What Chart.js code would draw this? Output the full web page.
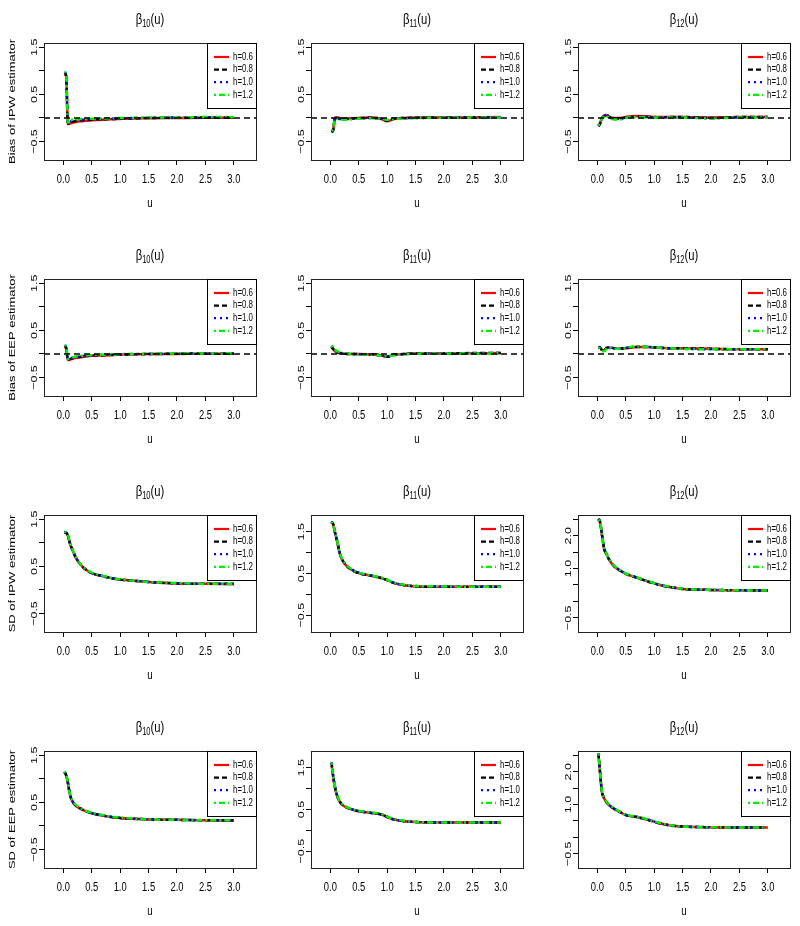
<!DOCTYPE html>
<html>
<head>
<meta charset="utf-8">
<script src="https://cdn.jsdelivr.net/npm/chart.js@4.4.1/dist/chart.umd.min.js"></script>
<style>
    body { margin: 0; background: #fff; width: 800px; height: 926px; overflow: hidden; position: relative; }
    .panel { position: absolute; width: 267px; height: 236px; }
</style>
</head>
<body>
<div id="grid"></div>
<script>
// ---- data ----
const uGrid = [0.02, 0.05, 0.08, 0.12, 0.16, 0.2, 0.3, 0.4, 0.5, 0.7, 0.9, 1.0, 1.1, 1.3, 1.5, 2.0, 2.5, 3.0];
const xTicks = [0, 0.5, 1.0, 1.5, 2.0, 2.5, 3.0];
const hLabels = ['h=0.6', 'h=0.8', 'h=1.0', 'h=1.2'];

const yTicksBias = [-0.5, 0, 0.5, 1.0, 1.5];
const yLabelsBias = [-0.5, 0.5, 1.5];
const yTicksWide = [-0.5, 0, 0.5, 1.0, 1.5, 2.0, 2.5];
const yLabelsWide = [-0.5, 1.0, 2.0];

// rows: h=0.6, h=0.8, h=1.0, h=1.2
const biasIpwB10 = [
    [0.93, 0.88, -0.13, -0.12, -0.1, -0.09, -0.07, -0.06, -0.05, -0.035, -0.025, -0.02, -0.015, -0.01, -0.005, 0, 0.005, 0.005],
    [0.96, 0.9, -0.12, -0.1, -0.08, -0.07, -0.05, -0.04, -0.035, -0.025, -0.02, -0.015, -0.01, -0.005, 0, 0.005, 0.01, 0.01],
    [0.97, 0.92, -0.11, -0.08, -0.06, -0.05, -0.04, -0.03, -0.025, -0.02, -0.015, -0.01, -0.005, 0, 0.005, 0.01, 0.015, 0.015],
    [0.98, 0.94, -0.1, -0.05, -0.03, -0.03, -0.02, -0.02, -0.015, -0.01, -0.005, 0, 0, 0.005, 0.01, 0.01, 0.02, 0.02]
];
const biasIpwB11 = [
    [-0.28, -0.25, 0.01, 0.01, 0, -0.01, -0.01, -0.005, 0, 0.01, -0.02, -0.07, -0.03, 0, 0.01, 0.01, 0.015, 0.02],
    [-0.3, -0.27, 0, 0, -0.01, -0.01, -0.02, -0.01, -0.005, 0.005, -0.02, -0.06, -0.02, 0, 0.005, 0.01, 0.01, 0.015],
    [-0.29, -0.26, -0.01, -0.01, -0.02, -0.02, -0.025, -0.015, -0.01, 0, -0.02, -0.05, -0.02, -0.005, 0, 0.005, 0.01, 0.01],
    [-0.27, -0.24, -0.02, -0.02, -0.03, -0.035, -0.04, -0.02, -0.015, -0.005, -0.02, -0.04, -0.025, -0.01, 0, 0.005, 0.01, 0.01]
];
const biasIpwB12 = [
    [-0.15, -0.1, 0.0, 0.04, 0.06, 0.03, 0.0, 0.0, 0.02, 0.04, 0.03, 0.02, 0.02, 0.02, 0.02, 0.01, 0.02, 0.02],
    [-0.18, -0.12, -0.01, 0.05, 0.08, 0.03, -0.01, -0.01, 0.01, 0.03, 0.02, 0.02, 0.01, 0.02, 0.02, 0.0, 0.02, 0.02],
    [-0.17, -0.11, -0.02, 0.04, 0.07, 0.02, -0.02, -0.02, 0.01, 0.02, 0.02, 0.01, 0.01, 0.01, 0.01, 0.0, 0.01, 0.02],
    [-0.16, -0.1, -0.02, 0.03, 0.05, 0.01, -0.03, -0.03, 0.0, 0.02, 0.01, 0.01, 0.01, 0.01, 0.01, -0.01, 0.01, 0.01]
];
const biasEepB10 = [
    [0.15, 0.12, -0.13, -0.12, -0.1, -0.09, -0.07, -0.05, -0.04, -0.03, -0.02, -0.015, -0.01, -0.005, 0, 0, 0.005, 0.005],
    [0.17, 0.14, -0.12, -0.11, -0.09, -0.08, -0.06, -0.045, -0.035, -0.025, -0.015, -0.01, -0.01, -0.005, 0, 0.005, 0.01, 0.01],
    [0.18, 0.15, -0.11, -0.1, -0.08, -0.07, -0.05, -0.04, -0.03, -0.02, -0.01, -0.01, -0.005, 0, 0, 0.005, 0.01, 0.01],
    [0.19, 0.16, -0.1, -0.09, -0.07, -0.06, -0.04, -0.03, -0.02, -0.015, -0.01, -0.005, 0, 0, 0.005, 0.01, 0.01, 0.015]
];
const biasEepB11 = [
    [0.14, 0.1, 0.06, 0.03, 0.02, 0.01, 0, 0, 0, -0.01, -0.03, -0.06, -0.02, 0, 0.01, 0.01, 0.015, 0.02],
    [0.16, 0.11, 0.07, 0.04, 0.02, 0.01, 0, 0, -0.005, -0.01, -0.03, -0.06, -0.02, 0, 0.01, 0.01, 0.02, 0.02],
    [0.17, 0.12, 0.08, 0.05, 0.03, 0.02, 0.005, 0, -0.005, -0.015, -0.035, -0.055, -0.025, 0, 0.005, 0.01, 0.015, 0.02],
    [0.18, 0.13, 0.09, 0.06, 0.04, 0.02, 0.01, 0, -0.01, -0.015, -0.035, -0.05, -0.03, -0.005, 0.005, 0.01, 0.01, 0.015]
];
const biasEepB12 = [
    [0.14, 0.13, 0.09, 0.08, 0.12, 0.14, 0.12, 0.11, 0.12, 0.15, 0.15, 0.14, 0.13, 0.12, 0.12, 0.11, 0.1, 0.1],
    [0.15, 0.14, 0.08, 0.07, 0.13, 0.14, 0.12, 0.11, 0.13, 0.15, 0.15, 0.14, 0.13, 0.12, 0.12, 0.11, 0.1, 0.1],
    [0.14, 0.13, 0.07, 0.07, 0.12, 0.13, 0.11, 0.11, 0.13, 0.16, 0.15, 0.14, 0.13, 0.12, 0.11, 0.1, 0.1, 0.1],
    [0.13, 0.12, 0.06, 0.06, 0.11, 0.13, 0.11, 0.11, 0.13, 0.16, 0.15, 0.14, 0.13, 0.12, 0.11, 0.1, 0.1, 0.1]
];
const sdIpwB10 = [
    [1.22, 1.21, 1.15, 0.97, 0.85, 0.73, 0.54, 0.43, 0.36, 0.29, 0.24, 0.22, 0.21, 0.19, 0.17, 0.14, 0.13, 0.12],
    [1.23, 1.22, 1.16, 0.98, 0.86, 0.74, 0.54, 0.43, 0.36, 0.29, 0.24, 0.22, 0.21, 0.19, 0.17, 0.14, 0.13, 0.13],
    [1.23, 1.22, 1.17, 0.99, 0.86, 0.74, 0.55, 0.43, 0.36, 0.29, 0.24, 0.22, 0.21, 0.19, 0.17, 0.14, 0.13, 0.13],
    [1.24, 1.23, 1.17, 0.99, 0.87, 0.75, 0.55, 0.44, 0.37, 0.3, 0.24, 0.23, 0.21, 0.19, 0.17, 0.15, 0.13, 0.13]
];
const sdIpwB11 = [
    [1.73, 1.67, 1.49, 1.27, 1.01, 0.85, 0.66, 0.57, 0.51, 0.45, 0.39, 0.34, 0.28, 0.22, 0.19, 0.18, 0.18, 0.18],
    [1.75, 1.69, 1.5, 1.28, 1.02, 0.86, 0.67, 0.57, 0.51, 0.45, 0.39, 0.34, 0.28, 0.22, 0.19, 0.18, 0.18, 0.18],
    [1.74, 1.68, 1.5, 1.29, 1.03, 0.86, 0.67, 0.58, 0.52, 0.45, 0.39, 0.35, 0.28, 0.22, 0.2, 0.18, 0.18, 0.18],
    [1.74, 1.68, 1.51, 1.29, 1.03, 0.87, 0.68, 0.58, 0.52, 0.46, 0.4, 0.35, 0.29, 0.23, 0.2, 0.19, 0.18, 0.18]
];
const sdIpwB12 = [
    [2.48, 2.38, 2.03, 1.59, 1.44, 1.29, 1.06, 0.94, 0.84, 0.72, 0.6, 0.55, 0.5, 0.43, 0.38, 0.35, 0.34, 0.33],
    [2.52, 2.42, 2.06, 1.61, 1.45, 1.3, 1.07, 0.94, 0.84, 0.72, 0.6, 0.55, 0.5, 0.43, 0.38, 0.35, 0.34, 0.33],
    [2.5, 2.4, 2.05, 1.6, 1.46, 1.31, 1.08, 0.95, 0.85, 0.73, 0.61, 0.55, 0.5, 0.43, 0.38, 0.35, 0.34, 0.33],
    [2.49, 2.4, 2.06, 1.61, 1.46, 1.31, 1.08, 0.95, 0.85, 0.73, 0.61, 0.56, 0.51, 0.44, 0.39, 0.35, 0.34, 0.33]
];
const sdEepB10 = [
    [1.14, 1.07, 0.91, 0.64, 0.52, 0.45, 0.37, 0.31, 0.27, 0.22, 0.18, 0.17, 0.16, 0.15, 0.14, 0.13, 0.12, 0.11],
    [1.15, 1.08, 0.92, 0.65, 0.53, 0.46, 0.37, 0.31, 0.27, 0.22, 0.18, 0.17, 0.16, 0.15, 0.14, 0.13, 0.12, 0.12],
    [1.15, 1.08, 0.93, 0.66, 0.53, 0.46, 0.38, 0.32, 0.27, 0.22, 0.19, 0.17, 0.16, 0.15, 0.14, 0.13, 0.12, 0.12],
    [1.16, 1.09, 0.93, 0.66, 0.54, 0.47, 0.38, 0.32, 0.28, 0.23, 0.19, 0.18, 0.17, 0.15, 0.14, 0.13, 0.12, 0.12]
];
const sdEepB11 = [
    [1.61, 1.29, 1.04, 0.82, 0.7, 0.62, 0.54, 0.49, 0.46, 0.42, 0.38, 0.32, 0.27, 0.22, 0.2, 0.19, 0.19, 0.19],
    [1.63, 1.3, 1.05, 0.83, 0.71, 0.63, 0.54, 0.49, 0.46, 0.42, 0.38, 0.32, 0.27, 0.22, 0.2, 0.19, 0.19, 0.19],
    [1.62, 1.31, 1.06, 0.83, 0.71, 0.63, 0.55, 0.5, 0.46, 0.42, 0.38, 0.33, 0.27, 0.22, 0.2, 0.19, 0.19, 0.19],
    [1.62, 1.31, 1.06, 0.84, 0.72, 0.64, 0.55, 0.5, 0.47, 0.43, 0.39, 0.33, 0.28, 0.23, 0.2, 0.19, 0.19, 0.19]
];
const sdEepB12 = [
    [2.53, 1.93, 1.39, 1.19, 1.07, 0.99, 0.86, 0.77, 0.68, 0.62, 0.53, 0.48, 0.43, 0.36, 0.33, 0.31, 0.3, 0.3],
    [2.56, 1.95, 1.4, 1.2, 1.08, 1.0, 0.87, 0.77, 0.68, 0.62, 0.53, 0.48, 0.43, 0.36, 0.33, 0.31, 0.3, 0.3],
    [2.55, 1.96, 1.41, 1.21, 1.08, 1.0, 0.87, 0.78, 0.69, 0.62, 0.54, 0.48, 0.43, 0.36, 0.33, 0.31, 0.3, 0.3],
    [2.55, 1.96, 1.41, 1.21, 1.09, 1.01, 0.88, 0.78, 0.69, 0.63, 0.54, 0.49, 0.44, 0.37, 0.33, 0.31, 0.3, 0.3]
];

// ---- styling ----
const lineColors = ['#ff0000', '#000000', '#0000ff', '#00ee00'];
const lineDashes = [[], [5, 3], [2, 4], [2, 3, 6, 3]];
const xRange = [-0.34, 3.39];
const yRangeBias = [-0.892, 1.592];
const yRangeMid = [-0.904, 1.904];
const yRangeWide = [-0.932, 2.632];

const SX = 0.75; // lettering in the reference is squeezed horizontally
const FONT = '"Liberation Sans", Arial, sans-serif';

const panels = [
    { sub: '10', ylabel: 'Bias of IPW estimator', data: biasIpwB10, range: yRangeBias, ticks: yTicksBias, labels: yLabelsBias, zero: true },
    { sub: '11', data: biasIpwB11, range: yRangeBias, ticks: yTicksBias, labels: yLabelsBias, zero: true },
    { sub: '12', data: biasIpwB12, range: yRangeBias, ticks: yTicksBias, labels: yLabelsBias, zero: true },
    { sub: '10', ylabel: 'Bias of EEP estimator', data: biasEepB10, range: yRangeBias, ticks: yTicksBias, labels: yLabelsBias, zero: true },
    { sub: '11', data: biasEepB11, range: yRangeBias, ticks: yTicksBias, labels: yLabelsBias, zero: true },
    { sub: '12', data: biasEepB12, range: yRangeBias, ticks: yTicksBias, labels: yLabelsBias, zero: true },
    { sub: '10', ylabel: 'SD of IPW estimator', data: sdIpwB10, range: yRangeBias, ticks: yTicksBias, labels: yLabelsBias },
    { sub: '11', data: sdIpwB11, range: yRangeMid, ticks: yTicksBias, labels: yLabelsBias },
    { sub: '12', data: sdIpwB12, range: yRangeWide, ticks: yTicksWide, labels: yLabelsWide },
    { sub: '10', ylabel: 'SD of EEP estimator', data: sdEepB10, range: yRangeBias, ticks: yTicksBias, labels: yLabelsBias },
    { sub: '11', data: sdEepB11, range: yRangeMid, ticks: yTicksBias, labels: yLabelsBias },
    { sub: '12', data: sdEepB12, range: yRangeWide, ticks: yTicksWide, labels: yLabelsWide }
];

const fmt = v => (v < 0 ? '\u2212' : '') + Math.abs(v).toFixed(1);

// Draw text squeezed in x, optionally rotated to read bottom-up
function squeezedText(ctx, text, x, y, size, align, rotate) {
    ctx.save();
    ctx.translate(x, y);
    ctx.scale(SX, 1);
    if (rotate) ctx.rotate(-Math.PI / 2);
    ctx.font = size + 'px ' + FONT;
    ctx.textAlign = align;
    ctx.textBaseline = 'middle';
    ctx.fillStyle = '#000';
    ctx.fillText(text, 0, 0);
    ctx.restore();
}

// R-style decorations: box, title, axis labels, legend, zero line
const rPanel = {
    id: 'rPanel',
    afterDatasetsDraw(chart, args, opts) {
        if (!opts.zero) return;
        const { ctx, chartArea: a } = chart;
        const y0 = Math.round(chart.scales.y.getPixelForValue(0));
        ctx.save();
        ctx.strokeStyle = '#000';
        ctx.lineWidth = 1.3;
        ctx.setLineDash([6, 4]);
        ctx.beginPath();
        ctx.moveTo(a.left, y0);
        ctx.lineTo(a.right, y0);
        ctx.stroke();
        ctx.restore();
    },
    afterDraw(chart, args, opts) {
        const { ctx, chartArea: a, scales } = chart;
        ctx.save();
        ctx.strokeStyle = '#222';
        ctx.lineWidth = 1;
        ctx.strokeRect(Math.round(a.left) + 0.5, Math.round(a.top) + 0.5,
            Math.round(a.right - a.left), Math.round(a.bottom - a.top));

        // title beta_sub(u)
        const cx = (a.left + a.right) / 2;
        ctx.translate(cx, 24);
        ctx.scale(SX, 1);
        ctx.fillStyle = '#000';
        ctx.textBaseline = 'alphabetic';
        ctx.textAlign = 'left';
        ctx.font = '15px ' + FONT;
        const wb = ctx.measureText('\u03b2').width;
        const wu = ctx.measureText('(u)').width;
        ctx.font = '10px ' + FONT;
        const ws = ctx.measureText(opts.sub).width;
        let x = -(wb + ws + wu) / 2;
        ctx.font = '15px ' + FONT;
        ctx.fillText('\u03b2', x, 0);
        ctx.font = '10px ' + FONT;
        ctx.fillText(opts.sub, x + wb, 3);
        ctx.font = '15px ' + FONT;
        ctx.fillText('(u)', x + wb + ws, 0);
        ctx.restore();

        // tick labels
        xTicks.forEach(v => squeezedText(ctx, v.toFixed(1), scales.x.getPixelForValue(v), 180, 12.5, 'center'));
        opts.labels.forEach(v => squeezedText(ctx, fmt(v), a.left - 10, scales.y.getPixelForValue(v), 12.5, 'center', true));

        // axis titles
        squeezedText(ctx, 'u', cx, 203, 13, 'center');
        if (opts.ylabel) squeezedText(ctx, opts.ylabel, 12, (a.top + a.bottom) / 2, 13, 'center', true);

        // legend in the top right corner
        const lw = 49, lh = 65;
        const lx = Math.round(a.right) - lw, ly = Math.round(a.top);
        ctx.save();
        ctx.fillStyle = '#fff';
        ctx.fillRect(lx, ly, lw, lh);
        ctx.strokeStyle = '#000';
        ctx.lineWidth = 1;
        ctx.strokeRect(lx + 0.5, ly + 0.5, lw, lh);
        chart.data.datasets.forEach((ds, i) => {
            const y = ly + 14 + i * 12.6;
            ctx.strokeStyle = ds.borderColor;
            ctx.lineWidth = 2.2;
            ctx.setLineDash(ds.borderDash);
            ctx.beginPath();
            ctx.moveTo(lx + 7, y);
            ctx.lineTo(lx + 22, y);
            ctx.stroke();
            ctx.setLineDash([]);
            squeezedText(ctx, ds.label, lx + 26, y, 10.5, 'left');
        });
        ctx.restore();
    }
};

const colLeft = [0, 267, 534];
const rowTop = [0, 236, 472, 708];
const grid = document.getElementById('grid');

panels.forEach((p, idx) => {
    const div = document.createElement('div');
    div.className = 'panel';
    div.style.left = colLeft[idx % 3] + 'px';
    div.style.top = rowTop[Math.floor(idx / 3)] + 'px';
    const canvas = document.createElement('canvas');
    canvas.width = 267;
    canvas.height = 236;
    div.appendChild(canvas);
    grid.appendChild(div);

    const datasets = p.data.map((vals, i) => ({
        label: hLabels[i],
        data: uGrid.map((u, k) => ({ x: u, y: vals[k] })),
        borderColor: lineColors[i],
        borderWidth: 2.5,
        borderDash: lineDashes[i],
        pointRadius: 0,
        cubicInterpolationMode: 'monotone',
        order: 4 - i // green drawn last, as in R
    }));

    new Chart(canvas.getContext('2d'), {
        type: 'line',
        data: { datasets: datasets },
        options: {
            responsive: false,
            animation: false,
            devicePixelRatio: 1,
            layout: { padding: { top: 43, right: 11, bottom: 0, left: 0 } },
            plugins: {
                legend: { display: false },
                tooltip: { enabled: false },
                rPanel: { sub: p.sub, ylabel: p.ylabel, labels: p.labels, zero: !!p.zero }
            },
            scales: {
                x: {
                    type: 'linear',
                    min: xRange[0],
                    max: xRange[1],
                    afterBuildTicks: s => { s.ticks = xTicks.map(v => ({ value: v })); },
                    afterFit: s => { s.height = 76; },
                    ticks: { display: false },
                    grid: { drawOnChartArea: false, tickLength: 5, color: '#000', lineWidth: 1 },
                    border: { display: false }
                },
                y: {
                    type: 'linear',
                    min: p.range[0],
                    max: p.range[1],
                    afterBuildTicks: s => { s.ticks = p.ticks.map(v => ({ value: v })); },
                    afterFit: s => { s.width = 44; },
                    ticks: { display: false },
                    grid: { drawOnChartArea: false, tickLength: 5, color: '#000', lineWidth: 1 },
                    border: { display: false }
                }
            }
        },
        plugins: [rPanel]
    });
});
</script>
</body>
</html>
